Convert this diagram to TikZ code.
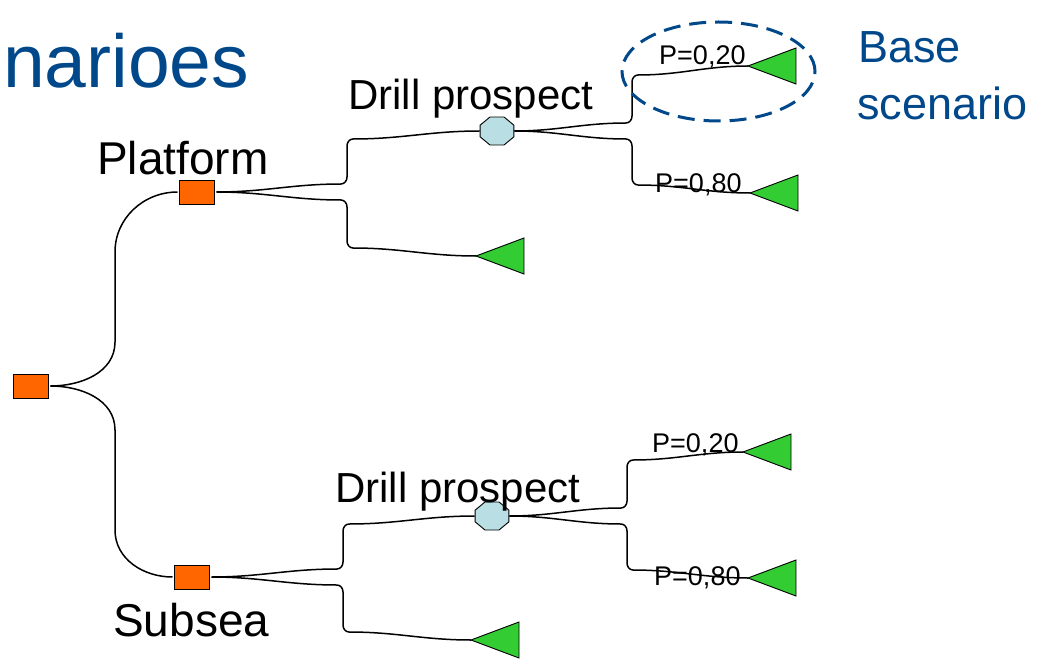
\documentclass[tikz,border=0pt]{standalone}
\usepackage{fontspec}
\setmainfont{Liberation Sans}
\usetikzlibrary{shapes.geometric}
\definecolor{deco}{RGB}{255,102,0}
\definecolor{chance}{RGB}{185,222,227}
\definecolor{leafgreen}{RGB}{51,204,51}
\definecolor{titleblue}{RGB}{0,72,138}
\newcommand{\fsz}[1]{\fontsize{#1}{#1}\selectfont}
\tikzset{
  decision/.style={draw=black, line width=0.9pt, fill=deco, minimum width=35pt, minimum height=24pt, inner sep=0pt, outer sep=2pt},
  chancenode/.style={draw=black, line width=0.9pt, fill=chance, regular polygon, regular polygon sides=8, minimum size=30.3pt, inner sep=0pt, xscale=1.21, transform shape},
  leaf/.style={draw=black, line width=0.9pt, fill=leafgreen, line join=miter},
  conn/.style={draw=black, line width=1.5pt},
  lbl/.style={anchor=base west, inner sep=0pt, text=black},
  blue/.style={anchor=base west, inner sep=0pt, text=titleblue},
  highlight/.style={draw=titleblue, line width=3pt, dash pattern=on 17pt off 9pt}
}
\begin{document}
\begin{tikzpicture}[x=1pt,y=1pt]
\useasboundingbox (0,0) rectangle (1051,-660);

% title and side note
\node[blue, font=\fsz{75}] (title) at (3,-88) {narioes};
\node[blue, font=\fsz{45}] (base1) at (858,-63) {Base};
\node[blue, font=\fsz{45}] (base2) at (857,-120) {scenario};

% decision nodes
\node[decision] (root) at (31,-386) {};
\node[decision] (plat) at (197,-192) {};
\node[decision] (sub) at (192,-577) {};

% chance nodes
\node[chancenode] (dt) at (497,-131) {};
\node[chancenode] (db) at (492,-516) {};

% end-node tips
\coordinate (t1) at (748,-66);
\coordinate (t2) at (750,-193);
\coordinate (t3) at (476,-256);
\coordinate (t4) at (743,-452);
\coordinate (t5) at (748,-578);
\coordinate (t6) at (471,-640);

% connectors
\draw[conn] (root.east) to[out=0,in=-90] (115,-342) -- (115,-252) to[out=90,in=180] (plat.west);
\draw[conn] (root.east) to[out=0,in=90] (115,-430) -- (115,-530) to[out=-90,in=180] (sub.west);

\draw[conn] (plat.east) to[out=0,in=180] (341,-184) to[out=0,in=-90] (347,-177) -- (347,-146) to[out=90,in=180] (353,-139) to[out=0,in=180] (dt.west);
\draw[conn] (plat.east) to[out=0,in=180] (341,-200) to[out=0,in=90] (347,-207) -- (347,-241) to[out=-90,in=180] (353,-248) to[out=0,in=180] (t3);

\draw[conn] (dt.east) to[out=0,in=180] (626,-123) to[out=0,in=-90] (632,-116) -- (632,-82) to[out=90,in=180] (638,-75) to[out=0,in=180] (t1);
\draw[conn] (dt.east) to[out=0,in=180] (626,-139) to[out=0,in=90] (632,-146) -- (632,-178) to[out=-90,in=180] (638,-185) to[out=0,in=180] (t2);

\draw[conn] (sub.east) to[out=0,in=180] (337,-569) to[out=0,in=-90] (343,-562) -- (343,-531) to[out=90,in=180] (349,-524) to[out=0,in=180] (db.west);
\draw[conn] (sub.east) to[out=0,in=180] (337,-585) to[out=0,in=90] (343,-592) -- (343,-625) to[out=-90,in=180] (349,-632) to[out=0,in=180] (t6);

\draw[conn] (db.east) to[out=0,in=180] (621,-508) to[out=0,in=-90] (627,-501) -- (627,-467) to[out=90,in=180] (633,-460) to[out=0,in=180] (t4);
\draw[conn] (db.east) to[out=0,in=180] (621,-524) to[out=0,in=90] (627,-531) -- (627,-563) to[out=-90,in=180] (633,-570) to[out=0,in=180] (t5);

% end nodes (triangles pointing left)
\foreach \t in {t1,t2,t3,t4,t5,t6}
  \draw[leaf] (\t) -- ++(48,18) -- ++(0,-36) -- cycle;

% labels
\node[lbl, font=\fsz{46}] (lplat) at (97,-175) {Platform};
\node[lbl, font=\fsz{46}] (lsub) at (113,-636) {Subsea};
\node[lbl, font=\fsz{42}] (ldt) at (348,-110) {Drill prospect};
\node[lbl, font=\fsz{42}] (ldb) at (335,-502) {Drill prospect};
\node[lbl, font=\fsz{27}] (p1) at (659,-65) {P=0,20};
\node[lbl, font=\fsz{27}] (p2) at (655,-193) {P=0,80};
\node[lbl, font=\fsz{27}] (p4) at (652,-452) {P=0,20};
\node[lbl, font=\fsz{27}] (p5) at (654,-585) {P=0,80};

% highlight around the base scenario
\draw[highlight] (718.5,-71.5) ellipse [x radius=96.5, y radius=49.5];
\end{tikzpicture}
\end{document}
